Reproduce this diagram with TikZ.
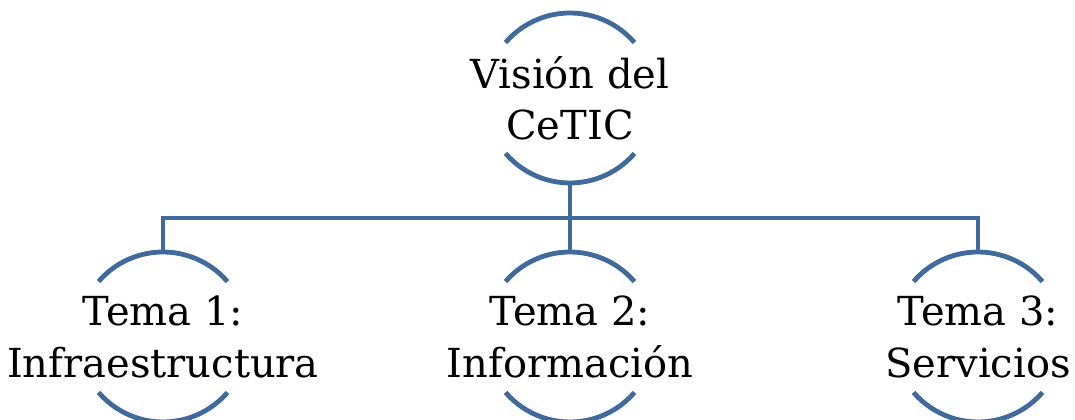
\documentclass[tikz,border=0pt]{standalone}
\usepackage{fontspec}
\setmainfont{DejaVu Serif}
\usepackage{tikz}
\usetikzlibrary{calc}
\usetikzlibrary{positioning}
\definecolor{linea}{RGB}{64,106,155}

\begin{document}
\begin{tikzpicture}[x=0.75pt, y=0.75pt, line width=3.6pt, color=linea,
	tema/.style={text=black, align=center, font=\fontsize{30}{38.5}\selectfont}]
			\useasboundingbox (0, 0) rectangle (1075, 420);
			\coordinate (v) at (570, 322);
			\coordinate (t1) at (163, 83);
			\coordinate (t2) at (570, 83);
			\coordinate (t3) at (978, 83);
			\coordinate (bar) at (570, 202);
			
			% arcos de cada circulo
			\foreach \c in {v, t1, t2, t3}
			{
				\draw ($(\c)+(40.7:63.75pt)$) arc[start angle=40.7, end angle=139.3, radius=63.75pt];
				\draw ($(\c)+(-139.3:63.75pt)$) arc[start angle=-139.3, end angle=-40.7, radius=63.75pt];
			}
			
			\coordinate (vb) at ($(v)+(0,-85)$);
			\coordinate (t1a) at ($(t1)+(0,85)$);
			\coordinate (t2a) at ($(t2)+(0,85)$);
			\coordinate (t3a) at ($(t3)+(0,85)$);
			\draw (vb) -- (vb |- bar);
			\draw (t1a) -- (t1a |- bar) -- (t3a |- bar) -- (t3a);
			\draw (t2a |- bar) -- (t2a);
			
			\node[tema] (vision) at (v) {Visión del\\CeTIC};
			\node[tema] (tema1) at (t1) {Tema 1:\\Infraestructura};
			\node[tema] (tema2) at (t2) {Tema 2:\\Información};
			\node[tema] (tema3) at (t3) {Tema 3:\\Servicios};
		\end{tikzpicture}
\end{document}
